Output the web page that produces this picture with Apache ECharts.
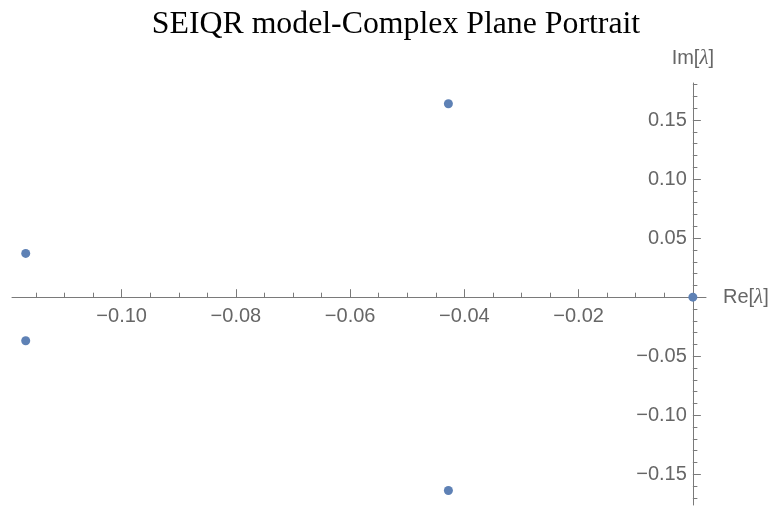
<!DOCTYPE html>
<html>
<head>
<meta charset="utf-8">
<script src="https://cdn.jsdelivr.net/npm/echarts@6/dist/echarts.min.js"></script>
<style>
  html, body { margin: 0; padding: 0; background: #fff; }
  #chart { width: 777px; height: 506px; }
</style>
</head>
<body>
<div id="chart"></div>
<script>
// eigenvalues: real and imaginary parts
const reParts = [-0.1168, -0.1168, -0.0428, -0.0428, 0.0];
const imParts = [0.0371, -0.0369, 0.1638, -0.1637, 0.0];

// tick values
const xMajorTicks = [-0.10, -0.08, -0.06, -0.04, -0.02];
const xMinorTicks = [-0.115, -0.11, -0.105, -0.095, -0.09, -0.085, -0.075, -0.07, -0.065,
  -0.055, -0.05, -0.045, -0.035, -0.03, -0.025, -0.015, -0.01, -0.005];
const yMajorTicks = [-0.15, -0.10, -0.05, 0.05, 0.10, 0.15];
const yMinorTicks = [-0.17, -0.16, -0.14, -0.13, -0.12, -0.11, -0.09, -0.08, -0.07, -0.06,
  -0.04, -0.03, -0.02, -0.01, 0.01, 0.02, 0.03, 0.04, 0.06, 0.07, 0.08, 0.09,
  0.11, 0.12, 0.13, 0.14, 0.16, 0.17, 0.18];

const points = reParts.map((x, i) => [x, imParts[i]]);

const axisColor = '#7a7a7a';
const textColor = '#666666';
const fmt = v => v.toFixed(2).replace('-', '\u2212');

// plot area, axes cross at the origin
const W = 777, H = 506;
const gridLeft = 12, gridRight = 71, gridTop = 83, gridBottom = 1;
const xRange = { min: -0.1192, max: 0.0023 };
const yRange = { min: -0.176, max: 0.1814 };
const plotW = W - gridLeft - gridRight, plotH = H - gridTop - gridBottom;
// shift axes from the grid edges onto zero
const xOffset = -plotH * (0 - yRange.min) / (yRange.max - yRange.min);
const yOffset = -plotW * (0 - xRange.min) / (xRange.max - xRange.min);

const nameRich = {
  a: { fontFamily: 'Liberation Sans', fontSize: 20, color: textColor },
  b: { fontFamily: 'Liberation Serif', fontStyle: 'italic', fontSize: 21, color: textColor }
};

const chart = echarts.init(document.getElementById('chart'));
chart.setOption({
  animation: false,
  title: {
    text: 'SEIQR model-Complex Plane Portrait',
    left: 391,
    textAlign: 'center',
    top: 4,
    textStyle: { fontFamily: 'Liberation Serif', fontSize: 31.8, fontWeight: 'normal', color: '#000' }
  },
  grid: { left: gridLeft, right: gridRight, top: gridTop, bottom: gridBottom,
    containLabel: false, outerBoundsMode: 'none' },
  xAxis: [
    {
      type: 'value', ...xRange, position: 'bottom', offset: xOffset,
      name: '{a|Re[}{b|λ}{a|]}',
      nameLocation: 'end', nameGap: 17,
      nameTextStyle: { rich: nameRich },
      axisLine: { onZero: false, lineStyle: { color: axisColor, width: 1 } },
      axisTick: { inside: true, length: 8, customValues: xMajorTicks, lineStyle: { color: axisColor } },
      axisLabel: { customValues: xMajorTicks, formatter: fmt, margin: 9,
        fontFamily: 'Liberation Sans', fontSize: 20, color: textColor },
      splitLine: { show: false }
    },
    {
      type: 'value', ...xRange, position: 'bottom', offset: xOffset,
      axisLine: { show: false, onZero: false },
      axisTick: { inside: true, length: 4.5, customValues: xMinorTicks, lineStyle: { color: axisColor } },
      axisLabel: { show: false },
      splitLine: { show: false }
    }
  ],
  yAxis: [
    {
      type: 'value', ...yRange, position: 'left', offset: yOffset,
      name: '{a|Im[}{b|λ}{a|]}',
      nameLocation: 'end', nameGap: 14,
      nameTextStyle: { rich: nameRich, align: 'center' },
      axisLine: { onZero: false, lineStyle: { color: axisColor, width: 1 } },
      axisTick: { inside: true, length: 8, customValues: yMajorTicks, lineStyle: { color: axisColor } },
      axisLabel: { customValues: yMajorTicks, formatter: fmt, margin: 6,
        fontFamily: 'Liberation Sans', fontSize: 20, color: textColor },
      splitLine: { show: false }
    },
    {
      type: 'value', ...yRange, position: 'left', offset: yOffset,
      axisLine: { show: false, onZero: false },
      axisTick: { inside: true, length: 4.5, customValues: yMinorTicks, lineStyle: { color: axisColor } },
      axisLabel: { show: false },
      splitLine: { show: false }
    }
  ],
  series: [
    {
      type: 'scatter',
      xAxisIndex: 0,
      yAxisIndex: 0,
      data: points,
      symbolSize: 9,
      itemStyle: { color: '#5E81B5', opacity: 1 },
      z: 5
    }
  ]
});
</script>
</body>
</html>
